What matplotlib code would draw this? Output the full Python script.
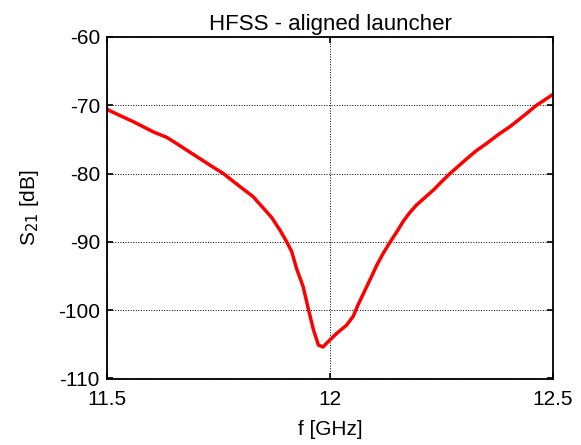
import matplotlib.pyplot as plt

plt.rcParams['font.family'] = ['Liberation Sans', 'DejaVu Sans']
plt.rcParams['axes.unicode_minus'] = False

# S21
freq_ghz = [11.500, 11.503, 11.529, 11.559, 11.604, 11.634, 11.656, 11.682,
            11.708, 11.734, 11.761, 11.798, 11.828, 11.836, 11.858, 11.870,
            11.888, 11.903, 11.914, 11.925, 11.940, 11.951, 11.963, 11.974,
            11.984, 11.996, 12.015, 12.037, 12.052, 12.063, 12.082, 12.095,
            12.105, 12.119, 12.135, 12.150, 12.164, 12.179, 12.194, 12.213,
            12.232, 12.250, 12.269, 12.288, 12.307, 12.329, 12.351, 12.377,
            12.404, 12.433, 12.463, 12.500]
s21_db = [-70.5, -70.7, -71.5, -72.4, -73.9, -74.7, -75.6, -76.7,
          -77.8, -78.9, -80.0, -81.9, -83.4, -84.0, -85.6, -86.5,
          -88.3, -90.0, -91.4, -93.9, -96.6, -99.7, -102.9, -105.1,
          -105.4, -104.6, -103.4, -102.2, -100.9, -99.2, -96.6, -94.8,
          -93.4, -91.7, -90.0, -88.5, -87.0, -85.7, -84.6, -83.5,
          -82.4, -81.2, -80.0, -78.9, -77.8, -76.6, -75.6, -74.3,
          -73.1, -71.6, -70.0, -68.4]

x_ticks = [11.5, 12, 12.5]
x_tick_labels = ['11.5', '12', '12.5']
y_ticks = [-110, -100, -90, -80, -70, -60]

fs = 15

fig = plt.figure(figsize=(5.81, 4.45), dpi=100)
ax = fig.add_axes([0.184, 0.148, 0.768, 0.769])

ax.plot(freq_ghz, s21_db, color='red', linewidth=2.5)

ax.set_xlim(11.5, 12.5)
ax.set_ylim(-110.1, -60)
ax.set_xticks(x_ticks)
ax.set_xticklabels(x_tick_labels)
ax.set_yticks(y_ticks)
ax.grid(True, color='black', linestyle=':', linewidth=0.7)

ax.tick_params(direction='in', top=True, right=True, labelsize=fs,
               length=4, width=1.2)
ax.tick_params(axis='x', pad=8)
ax.tick_params(axis='y', pad=5)
for spine in ax.spines.values():
    spine.set_linewidth(1.3)

ax.set_title('HFSS - aligned launcher', fontsize=16, pad=5)
ax.set_xlabel('f [GHz]', fontsize=fs, labelpad=8)
ax.set_ylabel('S$_{21}$ [dB]', fontsize=fs, labelpad=12)

fig.savefig('out.png', dpi=100)
